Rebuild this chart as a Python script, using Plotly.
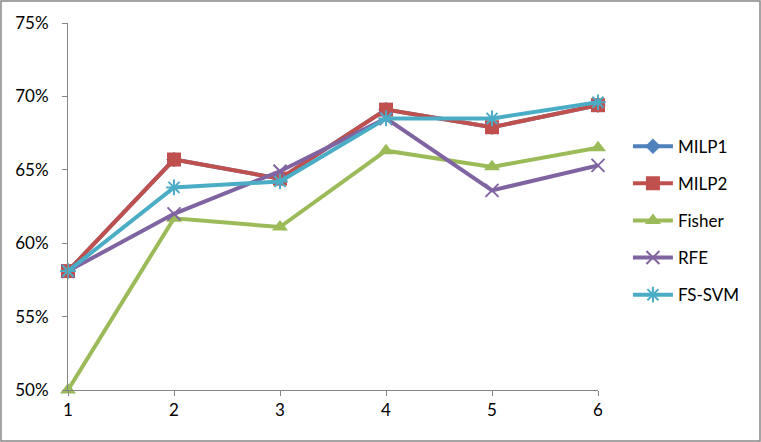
import plotly.graph_objects as go

x_vals = [1, 2, 3, 4, 5, 6]
milp1 = [0.581, 0.657, 0.644, 0.691, 0.679, 0.694]
milp2 = [0.581, 0.657, 0.644, 0.691, 0.679, 0.694]
fisher = [0.500, 0.617, 0.611, 0.663, 0.652, 0.665]
rfe = [0.581, 0.620, 0.649, 0.685, 0.636, 0.653]
fssvm = [0.581, 0.638, 0.642, 0.685, 0.685, 0.696]

series = [
    ("MILP1", milp1, "#4F81BD", "diamond", 12),
    ("MILP2", milp2, "#C0504D", "square", 14),
    ("Fisher", fisher, "#9BBB59", "triangle-up", 14),
    ("RFE", rfe, "#8064A2", "x-thin-open", 13),
    ("FS-SVM", fssvm, "#4BACC6", "asterisk-open", 13),
]

fig = go.Figure()
for i, (name, vals, color, sym, sz) in enumerate(series):
    open_sym = sym.endswith("open")
    fig.add_trace(go.Scatter(
        x=x_vals, y=vals, name=name, mode="lines+markers",
        line=dict(color=color, width=4),
        marker=dict(symbol=sym, size=sz, color=color,
                    line=dict(color=color, width=2 if open_sym else 0)),
        cliponaxis=False, legendgroup=f"g{i}",
    ))

L, R, T, B = 68, 163, 23, 52
W, H = 761, 442
pw = W - L - R
ph = H - T - B

fig.update_layout(
    width=W, height=H,
    margin=dict(l=L, r=R, t=T, b=B),
    paper_bgcolor="white", plot_bgcolor="white",
    font=dict(family="Lato, Open Sans, sans-serif", size=17, color="#000000"),
    showlegend=True,
    legend=dict(x=1.0565, y=0.712, xanchor="left", yanchor="top",
                tracegroupgap=12, font=dict(size=17),
                bgcolor="rgba(0,0,0,0)", itemwidth=40),
    xaxis=dict(range=[1, 6], tickmode="array", tickvals=x_vals,
               showgrid=False, zeroline=False, showline=True,
               linecolor="#868686", linewidth=1, ticks="outside",
               ticklen=5, tickcolor="#868686"),
    yaxis=dict(range=[0.5, 0.75], dtick=0.05, tickformat=".0%",
               showgrid=False, zeroline=False, showline=True,
               linecolor="#868686", linewidth=1, ticks="outside",
               ticklen=5, tickcolor="#868686", ticklabelstandoff=10),
    shapes=[dict(type="rect", xref="paper", yref="paper",
                 x0=(-L + 1) / pw, x1=(W - L - 1) / pw,
                 y0=(-B + 1) / ph, y1=(H - B - 1) / ph,
                 line=dict(color="#868686", width=1.5))],
)

fig.write_html("out.html", config={"displayModeBar": False},
               post_script="document.body.style.margin='0';document.body.style.overflow='hidden';")
